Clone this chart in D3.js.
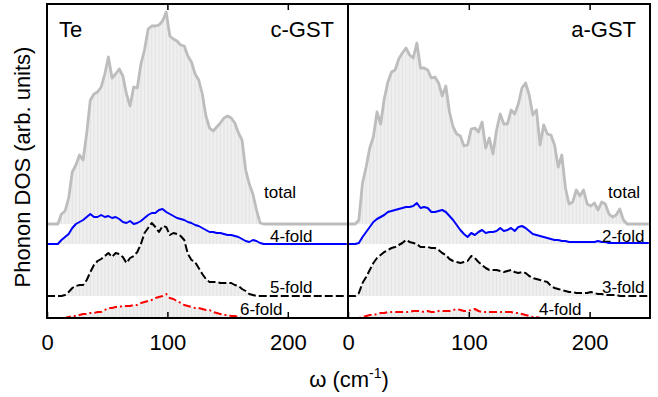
<!DOCTYPE html>
<html>
<head>
<meta charset="utf-8">
<script src="https://cdn.jsdelivr.net/npm/d3@7"></script>
<style>
  body { margin: 0; background: #fff; }
  svg { display: block; font-family: "Liberation Sans", Arial, sans-serif; }
</style>
</head>
<body>
<div id="chart"></div>
<script>
// frequency grid (cm^-1), shared by both panels
const omega = [0,3,6,9,12,15,18,21,24,27,30,33,36,39,42,45,48,51,54,57,60,63,66,69,72,75,78,81,84,87,
  90,93,96,99,102,105,108,111,114,117,120,123,126,129,132,135,138,141,144,147,150,153,156,159,162,165,168,171,174,177,
  180,183,186,189,192,195,198,201,204,207,210,213,216,219,222,225,228,231,234,237,240,243,246,249]

// c-GST, Te partial DOS
const cTotal = [0,0,0,0,10,13,26,52,59,69, 64,91,124,130,132,137,150,167,146,150,
  155,148,130,118,137,136,160,174,195,198, 198,199,203,212,188,185,183,179,178,168,
  162,150,144,130,108,96,93,97,101,106, 108,106,101,91,84,54,40,30,14,1,
  0,0,0,0,0,0,0,0,0,0, 0,0,0,0,0,0,0,0,0,0, 0,0,0,0]
const c4fold = [0,0,0,0,4,7,10,16,20,22, 24,27,30,27,27,29,27,28,26,27,
  25,22,21,23,20,21,23,26,29,31, 31,34,35,32,30,28,26,25,24,22,
  21,19,18,16,14,12,12,11,11,10, 9,9,8,7,5,3,2,4,3,1,
  0,0,0,0,0,0,0,0,0,0, 0,0,0,0,0,0,0,0,0,0, 0,0,0,0]
const c5fold = [0,0,0,0,0,1,4,8,10,11, 11,16,24,31,35,37,40,43,39,43,
  42,39,33,38,40,44,52,63,68,73, 69,64,70,69,61,63,62,60,56,42,
  36,34,28,22,17,14,14,14,13,13, 13,13,11,10,7,5,2,1,0,0,
  0,0,0,0,0,0,0,0,0,0, 0,0,0,0,0,0,0,0,0,0, 0,0,0,0]
const c6fold = [0,0,0,0,0,0,1,2,2,3, 4,4,5,5,6,6,8,10,10,11,
  11,12,12,12,13,13,15,16,17,18, 20,21,22,24,20,19,17,15,13,12,
  11,10,10,9,8,8,6,5,4,3, 3,2,2,1,0,0,0,0,0,0,
  0,0,0,0,0,0,0,0,0,0, 0,0,0,0,0,0,0,0,0,0, 0,0,0,0]

// a-GST, Te partial DOS
const aTotal = [0,0,0,4,41,57,76,87,112,100, 125,142,152,154,165,171,176,169,166,181,
  156,156,154,146,147,141,128,138,112,97, 90,88,78,79,95,96,92,102,76,86,
  70,94,110,100,100,114,110,120,136,141, 129,109,114,79,99,90,89,79,57,69,
  36,20,22,34,28,34,20,18,21,14, 22,20,10,7,9,15,4,0,0,0, 0,0,0,0]
const a2fold = [0,0,0,1,7,12,17,22,25,27, 29,32,33,34,35,36,37,37,38,41,
  36,37,36,32,32,33,34,32,28,24, 19,14,10,7,11,9,12,14,11,12,
  12,13,16,13,14,16,13,17,18,16, 13,10,9,8,7,6,5,4,4,3,
  3,2,2,2,2,2,2,2,2,3, 2,2,1,1,1,1,1,1,1,1, 1,1,1,1]
const a3fold = [0,0,0,3,13,19,26,33,38,41, 44,46,48,49,51,53,56,54,53,52,
  49,49,49,48,48,46,43,41,37,35, 34,33,34,35,40,38,34,31,28,26,
  26,26,25,24,25,26,24,23,24,23, 20,18,17,16,15,14,10,8,7,6,
  5,4,4,3,3,3,3,4,3,2, 2,1,1,1,1,0,0,0,0,0, 0,0,0,0]
const a4fold = [0,0,0,0,1,2,3,3,4,5, 5,6,6,6,6,6,6,6,7,7,
  7,6,7,6,6,7,7,7,7,8, 9,8,7,7,8,9,7,6,6,6,
  6,6,6,6,6,6,5,5,4,3, 2,1,1,0,0,0,0,0,0,0,
  0,0,0,0,0,0,0,0,0,0, 0,0,0,0,0,0,0,0,0,0, 0,0,0,0]

const xTicks = [0, 100, 200]
const offsets = [94, 74, 22, 0] // vertical shift of each curve

const width = 658, height = 397
const yTop = 4, yBottom = 318
const font = 22

const styles = [
  { stroke: "#bdbdbd", width: 2.8, dash: null },
  { stroke: "#0000ff", width: 2, dash: null },
  { stroke: "#000000", width: 2, dash: "8,3" },
  { stroke: "#ff0000", width: 2, dash: "8,3,2,3" }
]

const panels = [
  {
    x0: 47, x1: 348, series: [cTotal, c4fold, c5fold, c6fold], clip: "clip-c",
    title: "c-GST", element: "Te",
    labels: [["total", 264, 198], ["4-fold", 270, 242], ["5-fold", 270, 293], ["6-fold", 240, 315]]
  },
  {
    x0: 348, x1: 650, series: [aTotal, a2fold, a3fold, a4fold], clip: "clip-a",
    title: "a-GST", element: null,
    labels: [["total", 608, 198], ["2-fold", 602, 242], ["3-fold", 602, 293], ["4-fold", 539, 315]]
  }
]

const svg = d3.select("#chart").append("svg")
  .attr("width", width)
  .attr("height", height)
  .attr("viewBox", [0, 0, width, height])

const y = d3.scaleLinear().domain([0, yBottom - yTop]).range([yBottom, yTop])
const defs = svg.append("defs")

panels.forEach(p => {
  const x = d3.scaleLinear().domain([0, 250]).range([p.x0, p.x1])

  defs.append("clipPath").attr("id", p.clip)
    .append("rect")
    .attr("x", p.x0).attr("y", yTop)
    .attr("width", p.x1 - p.x0).attr("height", yBottom - yTop)

  const g = svg.append("g").attr("clip-path", `url(#${p.clip})`)

  // grey filled areas with thin vertical strokes
  p.series.forEach((s, k) => {
    const off = offsets[k]
    const area = d3.area()
      .x((d, i) => x(omega[i]))
      .y0(y(off))
      .y1(d => y(d + off))
    g.append("path")
      .attr("d", area(s))
      .attr("fill", "#efefef")
    g.append("g")
      .selectAll("line")
      .data(s.map((d, i) => i).filter(i => s[i] > 0))
      .join("line")
      .attr("x1", i => x(omega[i]))
      .attr("x2", i => x(omega[i]))
      .attr("y1", y(off))
      .attr("y2", i => y(s[i] + off))
      .attr("stroke", "#e0e0e0")
      .attr("stroke-width", 0.8)
  })

  // curves
  p.series.forEach((s, k) => {
    const off = offsets[k]
    const line = d3.line()
      .x((d, i) => x(omega[i]))
      .y(d => y(d + off))
    g.append("path")
      .attr("d", line(s))
      .attr("fill", "none")
      .attr("stroke", styles[k].stroke)
      .attr("stroke-width", styles[k].width)
      .attr("stroke-linejoin", "round")
      .attr("stroke-dasharray", styles[k].dash)
  })

  // curve labels
  p.labels.forEach(([t, lx, ly]) => {
    svg.append("text")
      .attr("x", lx).attr("y", ly)
      .attr("font-size", 17)
      .attr("fill", "#000")
      .text(t)
  })

  // axes
  svg.append("g")
    .attr("transform", `translate(0,${yBottom})`)
    .call(d3.axisBottom(x).tickValues(xTicks).tickSizeInner(-6).tickSizeOuter(0).tickPadding(16))
    .call(a => a.select(".domain").remove())
    .call(a => a.selectAll(".tick text").attr("font-size", font).attr("fill", "#000"))
    .call(a => a.selectAll(".tick line").attr("stroke", "#000").attr("stroke-width", 1.5))
  svg.append("g")
    .attr("transform", `translate(0,${yTop})`)
    .call(d3.axisTop(x).tickValues(xTicks.slice(1)).tickSizeInner(-6).tickSizeOuter(0).tickFormat(""))
    .call(a => a.select(".domain").remove())
    .call(a => a.selectAll(".tick line").attr("stroke", "#000").attr("stroke-width", 1.5))

  svg.append("rect")
    .attr("x", p.x0).attr("y", yTop)
    .attr("width", p.x1 - p.x0).attr("height", yBottom - yTop)
    .attr("fill", "none")
    .attr("stroke", "#000")
    .attr("stroke-width", 2)

  svg.append("text")
    .attr("x", p.x1 - 14).attr("y", 37)
    .attr("text-anchor", "end")
    .attr("font-size", 22)
    .text(p.title)
  if (p.element) {
    svg.append("text")
      .attr("x", p.x0 + 12).attr("y", 37)
      .attr("font-size", 22)
      .text(p.element)
  }
})

// axis titles
svg.append("text")
  .attr("transform", `translate(30,${(yTop + yBottom) / 2 + 6}) rotate(-90)`)
  .attr("text-anchor", "middle")
  .attr("font-size", font)
  .text("Phonon DOS (arb. units)")

const xl = svg.append("text")
  .attr("x", 349).attr("y", 387)
  .attr("text-anchor", "middle")
  .attr("font-size", font)
xl.append("tspan").text("ω (cm")
xl.append("tspan").attr("dy", -9).attr("font-size", 14).text("-1")
xl.append("tspan").attr("dy", 9).text(")")
</script>
</body>
</html>
